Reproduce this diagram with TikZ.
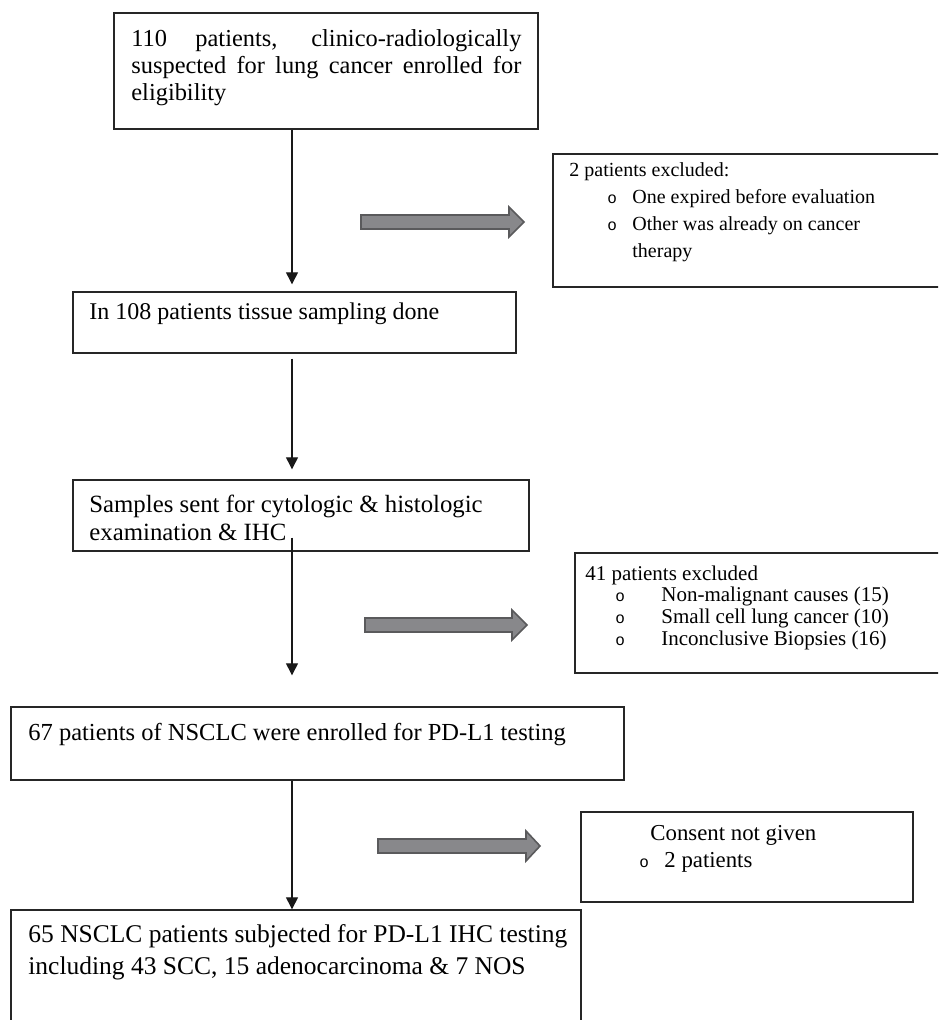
\documentclass[tikz,border=0pt]{standalone}
\usepackage{fontspec}
\setmainfont{Liberation Serif}
\newfontfamily\monofnt{Liberation Mono}
\usetikzlibrary{fit,arrows.meta,calc}
\definecolor{barfill}{HTML}{88888B}
\definecolor{barline}{HTML}{5A5A5C}
\newcommand\bul{{\monofnt\fontsize{8}{8}\selectfont o}}
\newcommand\grayarrow[5]{%
  \filldraw[bararrow] (#1,#4-7) -- (#3,#4-7) -- (#3,#4-15) -- (#2,#4) -- (#3,#4+15) -- (#3,#4+7) -- (#1,#4+7) -- cycle;
  \coordinate (#5) at (#1,#4);}
\begin{document}
\begin{tikzpicture}[x=0.5pt,y=-0.5pt,
  box/.style={draw=black!85, line width=0.7pt, inner sep=0pt},
  txt/.style={anchor=base west, inner sep=0pt},
  arr/.style={line width=0.65pt, draw=black!90, -{Triangle[width=6pt,length=6pt]}},
  bararrow/.style={fill=barfill, draw=barline, line width=0.8pt}]
\useasboundingbox (0,0) rectangle (938,1020);
\clip (0,0) rectangle (938,1020);
\fill[white] (0,0) rectangle (938,1020);
\coordinate (spine) at (292,0);

% boxes
\node[box, fit={(114,13) (538,129)}] (b1) {};
\node[box, fit={(73,292) (516,353)}] (b2) {};
\node[box, fit={(73,480) (529,551)}] (b3) {};
\node[box, fit={(11,707) (624,780)}] (b4) {};
\node[box, fit={(11,910) (581,1040)}] (b5) {};
\node[box, fit={(553,154) (950,287)}] (e1) {};
\node[box, fit={(575,553) (950,673)}] (e2) {};
\node[box, fit={(581,812) (913,902)}] (e3) {};

% texts
\node[txt] (t1) at (131,47) {\parbox[t]{195pt}{\fontsize{12.2}{13.5}\selectfont
  110 patients, clinico-radiologically\linebreak
  suspected for lung cancer enrolled for\linebreak
  eligibility}};
\node[txt] (t2) at (89,320) {\fontsize{12}{14}\selectfont In 108 patients tissue sampling done};
\node[txt] (t3) at (89,512) {\parbox[t]{260pt}{\raggedright\fontsize{12.4}{14}\selectfont
  Samples sent for cytologic \& histologic\\
  examination \& IHC}};
\node[txt] (t4) at (28,740) {\fontsize{12.25}{14}\selectfont 67 patients of NSCLC were enrolled for PD-L1 testing};
\node[txt] (t5) at (28,942) {\parbox[t]{300pt}{\raggedright\fontsize{12.75}{16}\selectfont
  65 NSCLC patients subjected for PD-L1 IHC testing\\
  including 43 SCC, 15 adenocarcinoma \& 7 NOS}};
\node[txt] (x1) at (569,177) {\parbox[t]{200pt}{\raggedright\fontsize{10}{13.5}\selectfont
  2 patients excluded:\\
  \hspace*{19pt}\makebox[12.5pt][l]{\bul}One expired before evaluation\\
  \hspace*{19pt}\makebox[12.5pt][l]{\bul}Other was already on cancer\\
  \hspace*{31.5pt}therapy}};
\node[txt] (x2) at (585,580) {\parbox[t]{200pt}{\raggedright\fontsize{10.5}{10.85}\selectfont
  41 patients excluded\\
  \hspace*{15pt}\makebox[23pt][l]{\bul}Non-malignant causes (15)\\
  \hspace*{15pt}\makebox[23pt][l]{\bul}Small cell lung cancer (10)\\
  \hspace*{15pt}\makebox[23pt][l]{\bul}Inconclusive Biopsies (16)}};
\node[txt] (x3) at (639,840) {\parbox[t]{150pt}{\raggedright\fontsize{11.4}{13.5}\selectfont
  \hspace*{5.5pt}Consent not given\\
  \makebox[12.5pt][l]{\bul}2 patients}};

% main flow arrows
\draw[arr] (b1.south -| spine) -- ([yshift=3.5pt]b2.north -| spine);
\draw[arr] ([yshift=-2.5pt]b2.south -| spine) -- ([yshift=5pt]b3.north -| spine);
\draw[arr] ([yshift=7pt]b3.south -| spine) -- ([yshift=15.5pt]b4.north -| spine);
\draw[arr] (b4.south -| spine) -- (b5.north -| spine);

% exclusion block arrows
\grayarrow{361}{524}{509}{222}{g1}
\grayarrow{365}{527}{512}{625}{g2}
\grayarrow{378}{540}{526}{846}{g3}
\end{tikzpicture}
\end{document}
